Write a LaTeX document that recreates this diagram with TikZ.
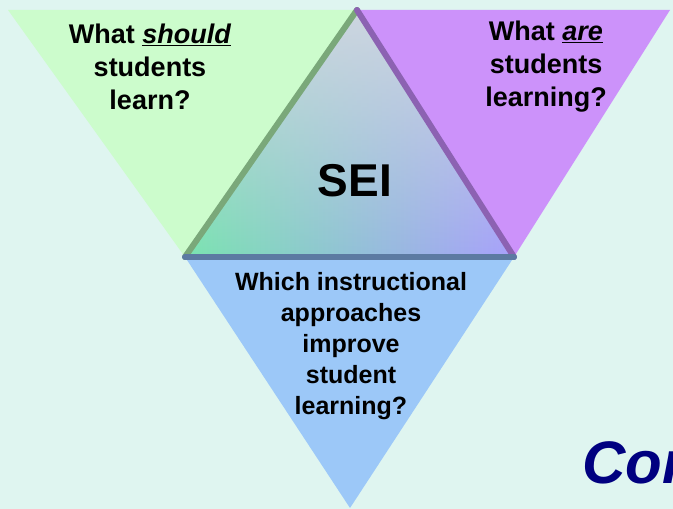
\documentclass[tikz,border=0pt]{standalone}
\usepackage{fontspec}
\setmainfont{Liberation Sans}
\usetikzlibrary{fadings}
\definecolor{bgc}{RGB}{223,245,240}
\definecolor{greenT}{RGB}{204,252,204}
\definecolor{purpleT}{RGB}{204,146,250}
\definecolor{blueT}{RGB}{156,200,248}
\definecolor{greenEdge}{RGB}{122,168,122}
\definecolor{purpleEdge}{RGB}{140,98,178}
\definecolor{blueEdge}{RGB}{92,122,162}
\definecolor{midL}{RGB}{122,228,176}
\definecolor{midM}{RGB}{146,222,210}
\definecolor{midR}{RGB}{168,160,252}
\definecolor{midTop}{RGB}{206,214,224}
\definecolor{navyT}{RGB}{0,0,128}
\tikzfading[name=topfade, top color=transparent!0, middle color=transparent!45, bottom color=transparent!100]
\tikzset{
  qtext/.style={align=center, text=black, font=\fontsize{27bp}{33bp}\selectfont\bfseries},
  qtextb/.style={align=center, text=black, font=\fontsize{25bp}{31bp}\selectfont\bfseries},
  edgeband/.style={line width=6bp, line cap=round}
}
\begin{document}
\begin{tikzpicture}[x=1bp,y=-1bp]
\useasboundingbox (0,0) rectangle (673,509);
\fill[bgc] (0,0) rectangle (673,509);
% corner coordinates
\coordinate (TL) at (8,10);
\coordinate (TR) at (670,10);
\coordinate (B) at (350,508);
\coordinate (A) at (357,10);
\coordinate (L) at (185,257);
\coordinate (R) at (514,257);
% outer triangles
\fill[greenT] (TL) -- (A) -- (L) -- cycle;
\fill[purpleT] (A) -- (TR) -- (R) -- cycle;
\fill[blueT] (L) -- (R) -- (B) -- cycle;
% central gradient triangle
\shade[left color=midL, middle color=midM, right color=midR] (A) -- (R) -- (L) -- cycle;
\fill[midTop, path fading=topfade] (A) -- (R) -- (L) -- cycle;
% bevel edges
\draw[edgeband, greenEdge] (A) -- (L);
\draw[edgeband, purpleEdge] (A) -- (R);
\draw[edgeband, blueEdge] (L) -- (R);
% texts
\node[qtext] (q1) at (150,67) {What \underline{\textit{should}}\\students\\learn?};
\node[qtext] (q2) at (546,67) {What \underline{\textit{are}}\\students\\learning?};
\node[qtextb] (q3) at (351,346) {Which instructional\\approaches\\improve\\student\\learning?};
\node[font=\fontsize{46bp}{50bp}\selectfont\bfseries, text=black] (sei) at (355,181) {SEI};
\node[anchor=base west, inner sep=0pt, font=\fontsize{60bp}{64bp}\selectfont\bfseries\itshape, text=navyT] (cor) at (582,483) {Cor};
\end{tikzpicture}
\end{document}
